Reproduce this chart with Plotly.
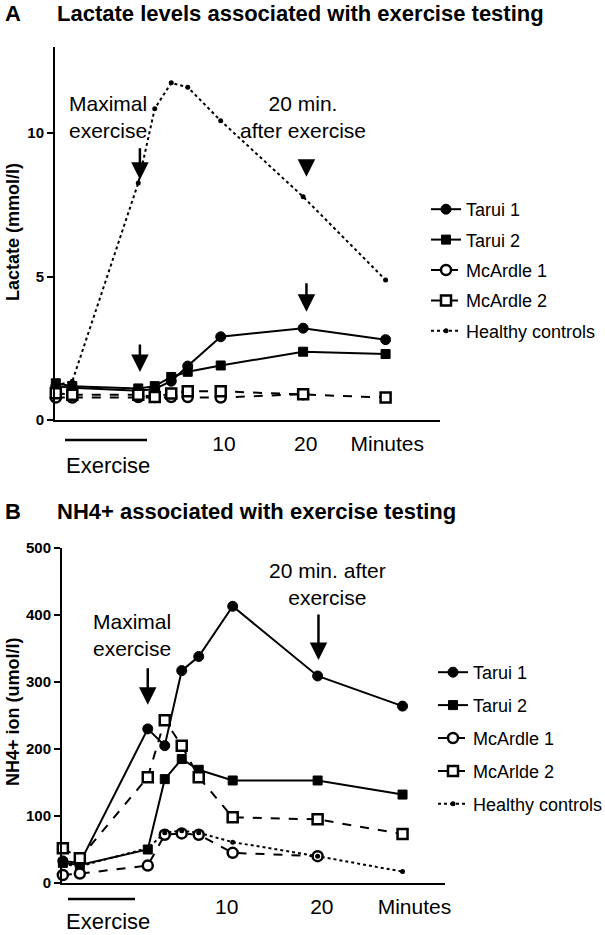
import plotly.graph_objects as go

W, H = 605, 935
FONT = "Liberation Sans, Arial, sans-serif"

# ---------------- data ----------------
times = [-10, -8, 0, 2, 4, 6, 10, 20, 30]

# Panel A: lactate (mmol/l)
lac_tarui1 = [1.18, 1.12, 1.02, 1.08, 1.35, 1.88, 2.9, 3.2, 2.8]
lac_tarui2 = [1.28, 1.18, 1.1, 1.18, 1.5, 1.68, 1.9, 2.38, 2.3]
lac_mcardle1 = [0.78, 0.78, 0.8, 0.8, 0.8, 0.8, 0.78, 0.9, None]
lac_mcardle2 = [0.93, 0.88, 0.88, 0.8, 0.92, 1.0, 1.0, 0.9, 0.78]
lac_healthy = [1.2, 1.35, 8.26, 10.85, 11.75, 11.6, 10.43, 7.78, 4.88]

# Panel B: NH4+ ion (umol/l)
nh_tarui1 = [33, 30, 230, 205, 317, 338, 413, 309, 264]
nh_tarui2 = [30, 27, 50, 155, 185, 169, 153, 153, 132]
nh_mcardle1 = [12, 14, 26, 72, 74, 72, 45, 40, None]
nh_mcardle2 = [52, 37, 158, 243, 205, 158, 98, 95, 73]
nh_healthy = [28, 25, 52, 75, 78, 75, 61, 40, 17]

names_A = ["Tarui 1", "Tarui 2", "McArdle 1", "McArdle 2", "Healthy controls"]
names_B = ["Tarui 1", "Tarui 2", "McArdle 1", "McArlde 2", "Healthy controls"]

xtick_vals_A = [10.4, 20.3, 30.2]
xtick_vals_B = [9.3, 20.5, 31.4]
xtick_text = ["10", "20", "Minutes"]


def px(x):
    return x / W


def py(y):
    return 1 - y / H


styles = [
    dict(marker=dict(symbol="circle", size=10, color="black", line=dict(color="black", width=1)),
         line=dict(color="black", width=2, dash="solid")),
    dict(marker=dict(symbol="square", size=9, color="black", line=dict(color="black", width=1)),
         line=dict(color="black", width=2, dash="solid")),
    dict(marker=dict(symbol="circle", size=10, color="white", line=dict(color="black", width=2.5)),
         line=dict(color="black", width=2, dash="dash")),
    dict(marker=dict(symbol="square", size=10, color="white", line=dict(color="black", width=2.5)),
         line=dict(color="black", width=2, dash="dash")),
    dict(marker=dict(symbol="circle", size=5, color="black"),
         line=dict(color="black", width=2, dash="dot")),
]

fig = go.Figure()

series_A = [lac_tarui1, lac_tarui2, lac_mcardle1, lac_mcardle2, lac_healthy]
series_B = [nh_tarui1, nh_tarui2, nh_mcardle1, nh_mcardle2, nh_healthy]

for i, (nm, ys) in enumerate(zip(names_A, series_A)):
    fig.add_trace(go.Scatter(x=times, y=ys, name=nm, mode="lines+markers",
                             xaxis="x", yaxis="y", legend="legend",
                             legendgroup="a%d" % i, cliponaxis=False,
                             connectgaps=False, **styles[i]))
for i, (nm, ys) in enumerate(zip(names_B, series_B)):
    fig.add_trace(go.Scatter(x=times, y=ys, name=nm, mode="lines+markers",
                             xaxis="x2", yaxis="y2", legend="legend2",
                             legendgroup="b%d" % i, cliponaxis=False,
                             connectgaps=False, **styles[i]))

axis_common = dict(showline=True, linecolor="black", linewidth=2, showgrid=False,
                   zeroline=False, mirror=False, automargin=False)
xaxis_common = dict(axis_common, ticks="", tickfont=dict(family=FONT, size=21, color="black"),
                    ticklabelstandoff=4)
yaxis_common = dict(axis_common, ticks="outside", ticklen=6, tickwidth=2, tickcolor="black",
                    tickfont=dict(family=FONT, size=15, color="black", weight="bold"))

fig.update_layout(
    template="none",
    width=W, height=H,
    margin=dict(l=0, r=0, t=0, b=0, autoexpand=False),
    paper_bgcolor="white", plot_bgcolor="white",
    font=dict(family=FONT, color="black"),
    xaxis=dict(xaxis_common, domain=[px(55), px(440)], range=[-10.1, 36.6],
               tickvals=xtick_vals_A, ticktext=xtick_text, anchor="y"),
    yaxis=dict(yaxis_common, domain=[py(420), py(47)], range=[0, 13],
               tickvals=[0, 5, 10], anchor="x"),
    xaxis2=dict(xaxis_common, domain=[px(62), px(445)], range=[-10.1, 35.0],
                tickvals=xtick_vals_B, ticktext=xtick_text, anchor="y2"),
    yaxis2=dict(yaxis_common, domain=[py(883), py(548)], range=[0, 500],
                tickvals=[0, 100, 200, 300, 400, 500], anchor="x2"),
    legend=dict(x=px(426), y=py(191), xanchor="left", yanchor="top",
                font=dict(family=FONT, size=18, color="black"),
                tracegroupgap=4, bgcolor="rgba(0,0,0,0)", itemwidth=30),
    legend2=dict(x=px(433), y=py(654), xanchor="left", yanchor="top",
                 font=dict(family=FONT, size=18, color="black"),
                 tracegroupgap=6.5, bgcolor="rgba(0,0,0,0)", itemwidth=30),
    showlegend=True,
)

annotations = []


def text(x, y, s, size=19, bold=False, xanchor="center", angle=0):
    annotations.append(dict(
        x=px(x), y=py(y), xref="paper", yref="paper", text=s, showarrow=False,
        xanchor=xanchor, yanchor="middle", textangle=angle,
        font=dict(family=FONT, size=size, color="black", weight="bold" if bold else "normal")))


# Titles
text(3, 13, "A", size=22, bold=True, xanchor="left")
text(55, 13, "Lactate levels associated with exercise testing", size=22, bold=True, xanchor="left")
text(3, 511, "B", size=22, bold=True, xanchor="left")
text(55, 511, "NH4+ associated with exercise testing", size=22, bold=True, xanchor="left")

# Y axis titles
text(13, 232, "Lactate (mmol/l)", size=18, bold=True, angle=-90)
text(13, 712, "NH4+ ion (umol/l)", size=18, bold=True, angle=-90)

# Panel labels
text(108, 117, "Maximal<br>exercise", size=21)
text(303, 117, "20 min.<br>after exercise", size=21)
text(132, 635, "Maximal<br>exercise", size=21)
text(328, 584, "20 min. after<br>exercise", size=21)
text(108, 465, "Exercise", size=22)
text(108, 921, "Exercise", size=22)


def arrow(xa, ya, x, y, length):
    annotations.append(dict(
        x=x, y=y, xref=xa, yref=ya, ax=0, ay=-length, axref="pixel", ayref="pixel",
        showarrow=True, arrowhead=2, arrowsize=1.4, arrowwidth=2.5, arrowcolor="black",
        text=""))


arrow("x", "y", 0.2, 8.37, 33)
arrow("x", "y", 20.4, 8.48, 17)
arrow("x", "y", 0.2, 1.67, 29)
arrow("x", "y", 20.4, 3.77, 30)
arrow("x2", "y2", 0.0, 266, 38)
arrow("x2", "y2", 20.1, 333, 47)

fig.update_layout(annotations=annotations)

# Exercise bars
fig.add_shape(type="line", xref="paper", yref="paper", x0=px(65), x1=px(147), y0=py(440), y1=py(440),
              line=dict(color="black", width=2.5))
fig.add_shape(type="line", xref="paper", yref="paper", x0=px(68), x1=px(135), y0=py(899), y1=py(899),
              line=dict(color="black", width=2.5))

fig.write_html("out.html",
               config={"displayModeBar": False},
               post_script="document.body.style.margin='0';document.body.style.padding='0';"
                           "document.body.style.overflow='hidden';")
